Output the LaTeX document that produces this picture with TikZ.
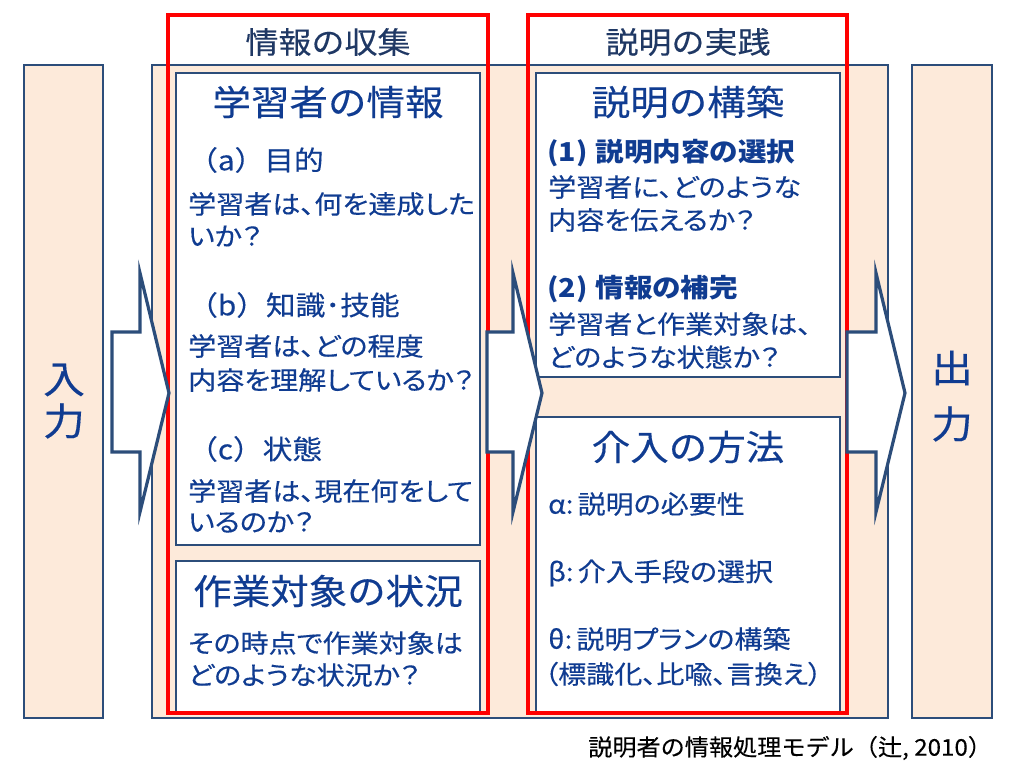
\documentclass[tikz,border=0pt]{standalone}
\usepackage{fontspec}
\setmainfont{Noto Sans CJK JP}[FakeStretch=1.1,FakeBold=0.3]
\newfontfamily\pfont{Noto Sans CJK JP}[FakeStretch=1.1,FakeBold=0.3,RawFeature=+palt]
\newfontfamily\pbfont{Noto Sans CJK JP}[FakeStretch=1.1,RawFeature=+palt]
\newfontfamily\capfont{Noto Sans CJK JP}[FakeStretch=1.05,FakeBold=0.2]
\definecolor{peach}{RGB}{253,234,218}
\definecolor{lineblue}{RGB}{44,77,122}
\definecolor{txtblue}{RGB}{16,60,145}
\definecolor{hdrblue}{RGB}{31,56,100}
\definecolor{redline}{RGB}{255,0,0}
\newcommand{\fs}[1]{\fontsize{#1}{#1}\selectfont}
\begin{document}
\begin{tikzpicture}[x=1pt,y=-1pt,
  bar/.style={draw=lineblue,line width=2.5pt,fill=peach},
  box/.style={draw=lineblue,line width=2.5pt,fill=white},
  redbox/.style={draw=redline,line width=3.5pt},
  bigarrow/.style={draw=lineblue,line width=3.2pt,fill=white,line join=miter},
  txt/.style={inner sep=0pt,text=txtblue,anchor=west},
  ttl/.style={inner sep=0pt,text=txtblue,font=\fs{35}},
  hdr/.style={inner sep=0pt,text=hdrblue,font=\fs{30}},
  sub/.style={txt,font=\fs{27}},
  body/.style={txt,font=\pfont\fs{25.5}},
  bbody/.style={txt,font=\pbfont\bfseries\fs{26}},
  bigch/.style={inner sep=0pt,text=txtblue,font=\fs{38}}
]
\useasboundingbox (0,0) rectangle (1024,768);
% bars and background
\path[bar] (24,65) rectangle (103,718);
\path[bar] (912,65) rectangle (992,718);
\path[bar] (152,65) rectangle (888,718);
% inner boxes
\path[box] (176,73) rectangle (480,545);
\path[box] (176,561) rectangle (480,712);
\path[box] (536,73) rectangle (840,377);
\path[box] (536,417) rectangle (840,712);
% red frames with white header area
\fill[white] (168,15) rectangle (488,63.75);
\fill[white] (528,15) rectangle (847,63.75);
\draw[lineblue,line width=2.5pt] (168,65) -- (488,65) (528,65) -- (847,65);
\path[redbox] (168,15) rectangle (488,713);
\path[redbox] (528,15) rectangle (847,713);
% arrows
\path[bigarrow] (112,332) -- (140,332) -- (140,273) -- (169,393) -- (140,512) -- (140,452) -- (112,452) -- cycle;
\path[bigarrow] (487,332) -- (513,332) -- (513,273) -- (542,393) -- (513,512) -- (513,452) -- (487,452) -- cycle;
\path[bigarrow] (847,332) -- (876,332) -- (876,273) -- (905,393) -- (876,512) -- (876,452) -- (847,452) -- cycle;
% bar texts
\node[bigch] (in1) at (64,380) {入};
\node[bigch] (in2) at (64,421) {力};
\node[bigch] (out1) at (952,368) {出};
\node[bigch] (out2) at (952,424) {力};
% headers
\node[hdr] (h1) at (328,42) {情報の収集};
\node[hdr] (h2) at (688,42) {説明の実践};
% left column
\node[ttl] (t1) at (328,102) {学習者の情報};
\node[sub] (a) at (188,160) {（a）目的};
\node[body] (a1) at (188,204) {学習者は、何を達成した};
\node[body] (a2) at (188,236) {いか？};
\node[sub] (b) at (188,305) {（b）知識･技能};
\node[body] (b1) at (188,346) {学習者は、どの程度};
\node[body] (b2) at (188,380) {内容を理解しているか？};
\node[sub] (c) at (188,449) {（c）状態};
\node[body] (c1) at (188,491) {学習者は、現在何をして};
\node[body] (c2) at (188,522) {いるのか？};
\node[ttl] (t2) at (328,591) {作業対象の状況};
\node[body] (d1) at (188,643) {その時点で作業対象は};
\node[body] (d2) at (188,675) {どのような状況か？};
% right column
\node[ttl] (t3) at (688,102) {説明の構築};
\node[bbody] (e) at (547,153) {(1)\hspace{8pt}説明内容の選択};
\node[body] (e1) at (548,187) {学習者に、どのような};
\node[body] (e2) at (548,220) {内容を伝えるか？};
\node[bbody] (f) at (547,289) {(2)\hspace{8pt}情報の補完};
\node[body] (f1) at (548,324) {学習者と作業対象は、};
\node[body] (f2) at (548,357) {どのような状態か？};
\node[ttl] (t4) at (688,447) {介入の方法};
\node[body] (g1) at (548,504) {α:\hspace{4pt}説明の必要性};
\node[body] (g2) at (548,573) {β:\hspace{4pt}介入手段の選択};
\node[body] (g3) at (548,639) {θ:\hspace{4pt}説明プランの構築};
\node[body] (g4) at (544,674) {（標識化、比喩、言換え）};
% caption
\node[inner sep=0pt,anchor=west,font=\capfont\fs{23}] (cap) at (588,748) {説明者の情報処理モデル（辻, 2010）};
\end{tikzpicture}
\end{document}
